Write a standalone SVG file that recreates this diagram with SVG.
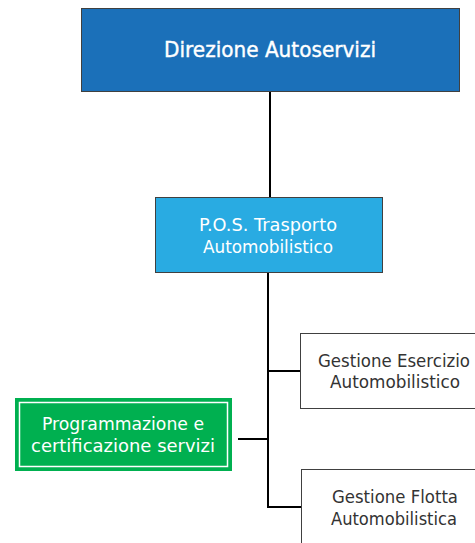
<svg xmlns="http://www.w3.org/2000/svg" width="475" height="543" viewBox="0 0 475 543">
  <style>
    .box { stroke: #404040; stroke-width: 1; }
    .lbl { font-family: "DejaVu Sans", "Liberation Sans", sans-serif; font-size: 18px; text-anchor: middle; }
    .title { font-size: 20.5px; stroke: #ffffff; stroke-width: 0.4; }
    .light { fill: #ffffff; }
    .dark { fill: #333333; }
    .wire { stroke: #000000; stroke-width: 2; fill: none; }
  </style>
  <rect width="475" height="543" fill="#ffffff"/>
  <g id="connectors">
    <line class="wire" x1="270" y1="91" x2="270" y2="198"/>
    <polyline class="wire" points="268,273 268,507 301,507"/>
    <line class="wire" x1="268" y1="371" x2="300" y2="371"/>
    <line class="wire" x1="238" y1="439" x2="268" y2="439"/>
  </g>
  <g id="direzione">
    <rect class="box" x="81.5" y="8.5" width="378" height="83" fill="#1B70B9"/>
    <text class="lbl light title" x="270" y="57" textLength="212" lengthAdjust="spacingAndGlyphs">Direzione Autoservizi</text>
  </g>
  <g id="pos">
    <rect class="box" x="155.5" y="197.5" width="227" height="75" fill="#29ABE2"/>
    <text class="lbl light" x="268" y="231" textLength="138" lengthAdjust="spacingAndGlyphs">P.O.S. Trasporto</text>
    <text class="lbl light" x="268" y="253" textLength="130" lengthAdjust="spacingAndGlyphs">Automobilistico</text>
  </g>
  <g id="esercizio">
    <rect class="box" x="300.5" y="333.5" width="180" height="75" fill="#ffffff"/>
    <text class="lbl dark" x="394" y="367" textLength="152" lengthAdjust="spacingAndGlyphs">Gestione Esercizio</text>
    <text class="lbl dark" x="395" y="388" textLength="130" lengthAdjust="spacingAndGlyphs">Automobilistico</text>
  </g>
  <g id="flotta">
    <rect class="box" x="301.5" y="469.5" width="180" height="80" fill="#ffffff"/>
    <text class="lbl dark" x="395" y="503" textLength="126" lengthAdjust="spacingAndGlyphs">Gestione Flotta</text>
    <text class="lbl dark" x="394" y="525" textLength="126" lengthAdjust="spacingAndGlyphs">Automobilistica</text>
  </g>
  <g id="programmazione">
    <rect x="15" y="398" width="217" height="73" fill="#00B050"/>
    <rect x="19.5" y="402.5" width="208" height="64" fill="none" stroke="#ffffff" stroke-width="1.5"/>
    <text class="lbl light" x="123" y="430" textLength="162" lengthAdjust="spacingAndGlyphs">Programmazione e</text>
    <text class="lbl light" x="123" y="452" textLength="184" lengthAdjust="spacingAndGlyphs">certificazione servizi</text>
  </g>
</svg>
